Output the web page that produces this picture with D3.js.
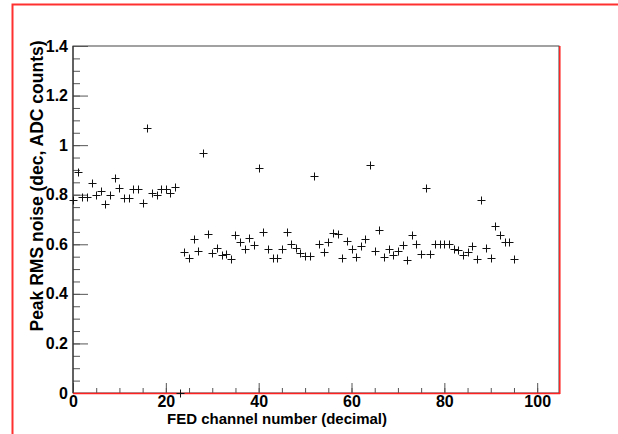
<!DOCTYPE html>
<html><head><meta charset="utf-8">
<script src="https://cdn.jsdelivr.net/npm/d3@7"></script>
<style>
html,body{margin:0;padding:0;background:#fff;}
text{font-family:"Liberation Sans",Arial,Helvetica,sans-serif;font-weight:bold;}
</style></head>
<body>
<svg id="c" width="618" height="434"></svg>
<script>
// ---- data ----
const channels = d3.range(0, 96);
const noise = [
  0.780, 0.893, 0.792, 0.792, 0.846, 0.800, 0.816, 0.761, 0.799, 0.869,
  0.826, 0.788, 0.788, 0.823, 0.823, 0.765, 1.070, 0.808, 0.799, 0.823,
  0.823, 0.806, 0.830, 0.000, 0.570, 0.543, 0.621, 0.574, 0.967, 0.640,
  0.563, 0.584, 0.557, 0.559, 0.539, 0.637, 0.610, 0.581, 0.627, 0.597,
  0.906, 0.648, 0.580, 0.543, 0.543, 0.581, 0.651, 0.600, 0.584, 0.566,
  0.553, 0.553, 0.875, 0.600, 0.567, 0.608, 0.644, 0.640, 0.543, 0.614,
  0.580, 0.550, 0.593, 0.620, 0.920, 0.574, 0.658, 0.547, 0.581, 0.557,
  0.574, 0.597, 0.537, 0.637, 0.600, 0.561, 0.828, 0.561, 0.602, 0.602,
  0.602, 0.602, 0.580, 0.577, 0.557, 0.570, 0.593, 0.539, 0.779, 0.584,
  0.543, 0.675, 0.637, 0.610, 0.610, 0.539
];
const xMajorTicks = [0, 20, 40, 60, 80, 100];
const xMinorTicks = d3.range(0, 105, 5);
const yMajorTicks = [0, 0.2, 0.4, 0.6, 0.8, 1.0, 1.2, 1.4];
const yMinorTicks = d3.range(0, 1.4001, 0.05);
const xTitle = "FED channel number (decimal)";
const yTitle = "Peak RMS noise (dec, ADC counts)";

// ---- layout ----
const svg = d3.select("#c");
const L = 73, R = 559, T = 46, B = 393;
const x = d3.scaleLinear().domain([0, 104.7]).range([L, R]);
const y = d3.scaleLinear().domain([0, 1.4]).range([B, T]);

// outer red border (canvas highlight)
svg.append("path").attr("d", `M12.5,434V4.5H618`).attr("fill", "none")
  .attr("stroke", "#ff3030").attr("stroke-width", 2);

// frame
svg.append("rect").attr("x", L).attr("y", T).attr("width", R - L).attr("height", B - T)
  .attr("fill", "none").attr("stroke", "#444").attr("stroke-width", 1);

const tickCol = "#555";
const gxm = svg.append("g").attr("transform", `translate(0,${B})`)
  .call(d3.axisBottom(x).tickValues(xMinorTicks).tickSizeInner(-5).tickSizeOuter(0).tickFormat(""));
const gx = svg.append("g").attr("transform", `translate(0,${B})`)
  .call(d3.axisBottom(x).tickValues(xMajorTicks).tickSizeInner(-10).tickSizeOuter(0).tickPadding(3)
    .tickFormat(d => String(d)));
const gym = svg.append("g").attr("transform", `translate(${L},0)`)
  .call(d3.axisLeft(y).tickValues(yMinorTicks).tickSizeInner(-7).tickSizeOuter(0).tickFormat(""));
const gy = svg.append("g").attr("transform", `translate(${L},0)`)
  .call(d3.axisLeft(y).tickValues(yMajorTicks).tickSizeInner(-15).tickSizeOuter(0).tickPadding(5)
    .tickFormat(d => String(+d.toFixed(1))));

[gxm, gx, gym, gy].forEach(g => {
  g.select(".domain").remove();
  g.selectAll(".tick line").attr("stroke", tickCol);
  g.selectAll("text").attr("fill", "#000").style("font-size", "16px").style("font-weight", "bold")
    .style("font-family", '"Liberation Sans",Arial,sans-serif');
});

// axis lines
svg.append("line").attr("x1", L).attr("x2", L).attr("y1", T).attr("y2", B)
  .attr("stroke", "#222").attr("stroke-width", 1);
svg.append("line").attr("x1", L).attr("x2", R + 1).attr("y1", B + 0.5).attr("y2", B + 0.5)
  .attr("stroke", "#ff2020").attr("stroke-width", 1.5);
svg.append("line").attr("x1", R + 0.8).attr("x2", R + 0.8).attr("y1", T).attr("y2", B + 1)
  .attr("stroke", "#ff2020").attr("stroke-width", 1.5);

// markers
svg.append("g").selectAll("path").data(channels).join("path")
  .attr("d", "M-4,0H4M0,-4V4")
  .attr("transform", (d, i) => `translate(${Math.round(x(d)) + 0.5},${Math.round(y(noise[i])) + 0.5})`)
  .attr("stroke", "#111").attr("stroke-width", 1).attr("fill", "none");

// titles
svg.append("text").attr("x", 277).attr("y", 424).attr("text-anchor", "middle")
  .style("font-size", "15px").text(xTitle);
svg.append("text").attr("transform", "translate(43,186) rotate(-90)").attr("text-anchor", "middle")
  .style("font-size", "17.5px").text(yTitle);
</script>
</body></html>
